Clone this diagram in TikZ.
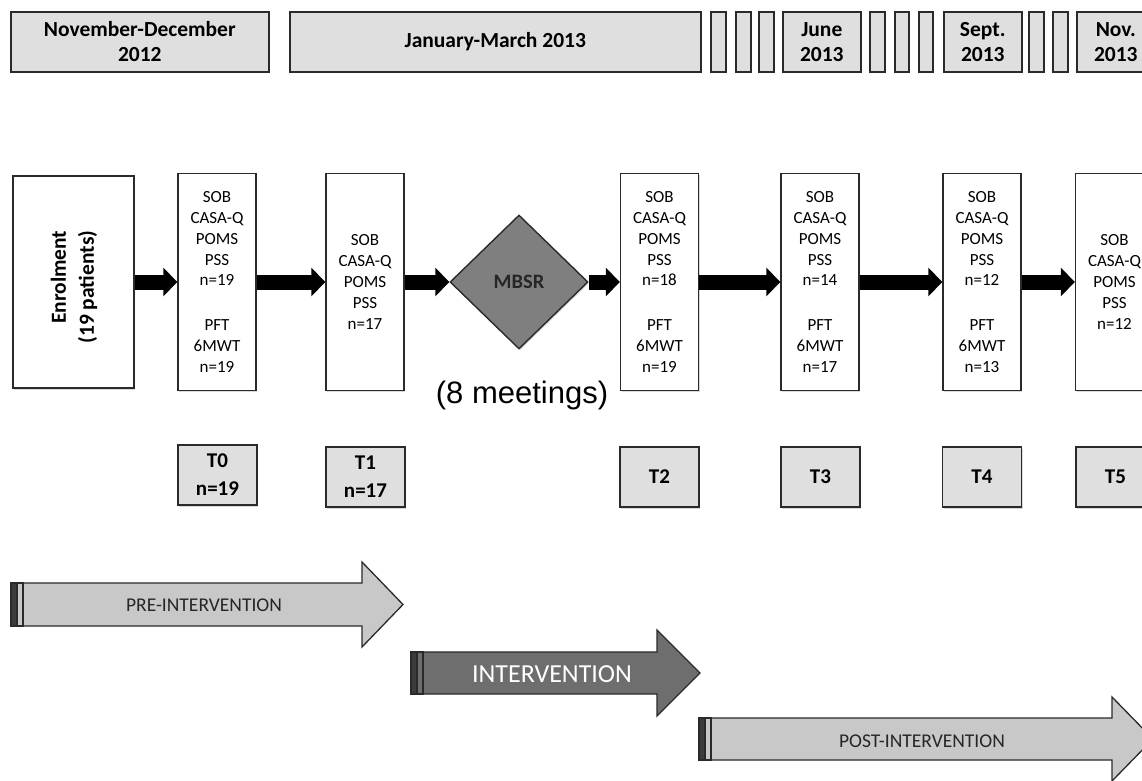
\documentclass[tikz,border=0pt]{standalone}
\usepackage{fontspec}
\setmainfont{Carlito}
\newfontfamily\arialfont{Liberation Sans}
\usetikzlibrary{shapes.geometric,arrows.meta,shadows}
\definecolor{boxgray}{HTML}{DFDFDF}
\definecolor{edgegray}{HTML}{2A2A2A}
\definecolor{arrowlight}{HTML}{C8C8C8}
\definecolor{arrowdark}{HTML}{6E6E6E}
\definecolor{tailbar}{HTML}{3C3C3C}
\definecolor{diamondgray}{HTML}{7F7F7F}
\begin{document}
\begin{tikzpicture}[x=1pt,y=-1pt,
  shade/.style={drop shadow={shadow xshift=1pt,shadow yshift=-1.5pt,opacity=.15,fill=black}},
  hdr/.style={shade,draw=edgegray,line width=1.6pt,fill=boxgray,inner sep=0pt,
    anchor=north west,minimum height=60pt,align=center,
    font=\bfseries\fontsize{21.5}{25}\selectfont},
  mainbox/.style={shade,draw=edgegray,line width=1.4pt,fill=white,inner sep=0pt,
    minimum width=78pt,minimum height=217pt,align=center,
    font=\fontsize{17}{20.8}\selectfont},
  tlabel/.style={shade,draw=edgegray,line width=1.6pt,fill=boxgray,inner sep=0pt,
    minimum width=79pt,minimum height=60pt,align=center,
    font=\bfseries\fontsize{21}{28}\selectfont},
  blockarrow/.style={line width=15pt,-{Triangle[length=14pt,width=28pt]},black},
  phasebody/.style={draw=edgegray,line width=1.3pt},
  phasetext/.style={inner sep=0pt,font=\fontsize{19.5}{22}\selectfont,text=black!85}
]
\useasboundingbox (0,0) rectangle (1142,780);
\clip (0,0) rectangle (1142,780);

% ---- header timeline ----
\node[hdr,minimum width=258pt] (h1) at (10,11) {November-December\\2012};
\node[hdr,minimum width=411pt] (h2) at (289,11) {January-March 2013};
\node[hdr,minimum width=15pt] (s1) at (710,11) {};
\node[hdr,minimum width=15pt] (s2) at (735,11) {};
\node[hdr,minimum width=15pt] (s3) at (758,11) {};
\node[hdr,minimum width=78pt] (h3) at (782,11) {June\\2013};
\node[hdr,minimum width=15pt] (s4) at (869,11) {};
\node[hdr,minimum width=14pt] (s5) at (894,11) {};
\node[hdr,minimum width=14pt] (s6) at (918,11) {};
\node[hdr,minimum width=78pt] (h4) at (943,11) {Sept.\\2013};
\node[hdr,minimum width=15pt] (s7) at (1028,11) {};
\node[hdr,minimum width=15pt] (s8) at (1052,11) {};
\node[hdr,minimum width=78pt] (h5) at (1076,11) {Nov.\\2013};

% ---- main row ----
\node[mainbox,minimum width=121pt,minimum height=212pt] (enrol) at (73.5,282) {};
\node[rotate=90,inner sep=0pt,align=right,font=\bfseries\fontsize{21.5}{28}\selectfont]
  (enroltext) at (74,287) {Enrolment\\(19 patients)};
\node[mainbox] (t0) at (217,282) {SOB\\CASA-Q\\POMS\\PSS\\n=19\\[24pt]PFT\\6MWT\\n=19};
\node[mainbox] (t1) at (365,282) {SOB\\CASA-Q\\POMS\\PSS\\n=17};
\node[diamond,shade,draw=edgegray,line width=1.4pt,fill=diamondgray,inner sep=0pt,
  minimum width=138pt,minimum height=134pt,font=\bfseries\fontsize{20.5}{24}\selectfont,
  text=black!85] (mbsr) at (519,282) {MBSR};
\node[mainbox] (t2) at (659.5,282) {SOB\\CASA-Q\\POMS\\PSS\\n=18\\[24pt]PFT\\6MWT\\n=19};
\node[mainbox] (t3) at (820,282) {SOB\\CASA-Q\\POMS\\PSS\\n=14\\[24pt]PFT\\6MWT\\n=17};
\node[mainbox] (t4) at (982,282) {SOB\\CASA-Q\\POMS\\PSS\\n=12\\[24pt]PFT\\6MWT\\n=13};
\node[mainbox] (t5) at (1114.5,282) {SOB\\CASA-Q\\POMS\\PSS\\n=12};

\draw[blockarrow] (enrol.east) -- (t0.west);
\draw[blockarrow] (t0.east) -- (t1.west);
\draw[blockarrow] (t1.east) -- (mbsr.west);
\draw[blockarrow] (mbsr.east) -- (t2.west);
\draw[blockarrow] (t2.east) -- (t3.west);
\draw[blockarrow] (t3.east) -- (t4.west);
\draw[blockarrow] (t4.east) -- (t5.west);

\node[inner sep=0pt,font=\arialfont\fontsize{31}{36}\selectfont] (meet) at (522,395) {(8 meetings)};

% ---- time point labels ----
\node[tlabel] (l0) at (217.5,475) {T0\\n=19};
\node[tlabel] (l1) at (365.5,477) {T1\\n=17};
\node[tlabel] (l2) at (659.5,477) {T2};
\node[tlabel] (l3) at (820.5,477) {T3};
\node[tlabel] (l4) at (982,477) {T4};
\node[tlabel] (l5) at (1115.5,477) {T5};

% ---- phase arrows ----
\draw[phasebody,fill=arrowlight] (23,583) -- (362,583) -- (362,562) -- (403,604.5)
  -- (362,647) -- (362,626) -- (23,626) -- cycle;
\draw[phasebody,fill=tailbar] (11,583) rectangle (17,626);
\draw[phasebody,fill=arrowlight] (17,583) rectangle (23,626);
\node[phasetext] (pre) at (204,605) {PRE-INTERVENTION};

\draw[phasebody,fill=arrowdark] (423,652) -- (657,652) -- (657,630) -- (700,673)
  -- (657,716) -- (657,694) -- (423,694) -- cycle;
\draw[phasebody,fill=tailbar] (411,652) rectangle (417,694);
\draw[phasebody,fill=arrowdark] (417,652) rectangle (423,694);
\node[inner sep=0pt,font=\fontsize{26}{30}\selectfont,text=white] (inter) at (552,674) {INTERVENTION};

\draw[phasebody,fill=arrowlight] (711,718) -- (1112,718) -- (1112,697) -- (1153,739)
  -- (1112,781) -- (1112,760) -- (711,760) -- cycle;
\draw[phasebody,fill=tailbar] (699,718) rectangle (705,760);
\draw[phasebody,fill=arrowlight] (705,718) rectangle (711,760);
\node[phasetext] (post) at (922,741) {POST-INTERVENTION};
\end{tikzpicture}
\end{document}
